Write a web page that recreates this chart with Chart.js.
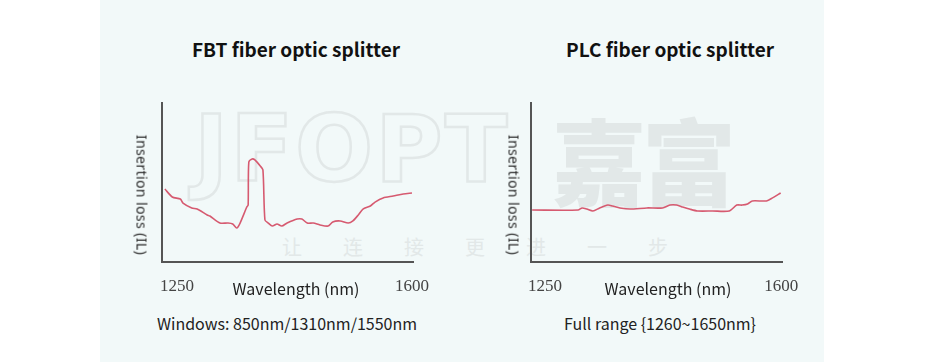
<!DOCTYPE html>
<html>
<head>
<meta charset="utf-8">
<script src="https://cdn.jsdelivr.net/npm/chart.js@4.4.1/dist/chart.umd.min.js"></script>
<style>
  body { margin: 0; width: 925px; height: 362px; background: #fff; position: relative; overflow: hidden; font-family: "Noto Sans CJK SC", "Noto Sans", sans-serif; }
  #panel { position: absolute; left: 100px; top: 0; width: 724px; height: 362px; background: #f2f9f9; }
  .abs { position: absolute; white-space: nowrap; }
  .title { font-size: 19px; font-weight: 700; color: #111; top: 35px; }
  .ytitle { font-size: 14px; color: #2a2a2a; transform: translate(-50%, -50%) rotate(90deg); letter-spacing: 0.4px; font-family: "Noto Sans", sans-serif; }
  .xtitle { font-size: 16px; color: #222; top: 276px; transform: translateX(-50%); }
  .caption { font-size: 16px; color: #222; top: 311px; transform: translateX(-50%); }
  .wm { color: #e2e8e8; }
  canvas { position: absolute; }
</style>
</head>
<body>
<div id="panel"></div>

<!-- faint watermarks -->
<div class="abs" style="left:194px; top:96px; font-size:92px; font-family:'DejaVu Sans'; font-weight:700; color:transparent; -webkit-text-stroke:2.5px #e2e8e8; letter-spacing:2px;">JFOPT</div>
<div class="abs wm" style="left:552px; top:90px; font-size:94px; font-weight:900; letter-spacing:-4px;">嘉富</div>
<div class="abs wm" style="left:282px; top:232px; font-size:20px; letter-spacing:41px;">让连接更进一步</div>

<div class="abs title" style="left:192px;">FBT fiber optic splitter</div>
<div class="abs title" style="left:566px;">PLC fiber optic splitter</div>

<canvas id="fbt" width="309" height="215" style="left:140px; top:95px;"></canvas>
<canvas id="plc" width="309" height="215" style="left:509px; top:95px;"></canvas>

<div class="abs ytitle" style="left:142px; top:195px;">Insertion loss (IL)</div>
<div class="abs ytitle" style="left:514px; top:195px;">Insertion loss (IL)</div>

<div class="abs xtitle" style="left:296px;">Wavelength (nm)</div>
<div class="abs xtitle" style="left:668px;">Wavelength (nm)</div>

<div class="abs caption" style="left:287px;">Windows: 850nm/1310nm/1550nm</div>
<div class="abs caption" style="left:660px;">Full range {1260~1650nm}</div>

<script>
// x tick labels (nm)
const xTicks = [1250, 1600]

// FBT splitter: wavelength (nm) / insertion loss (arbitrary units)
const fbtWave = [1232, 1243, 1255, 1259, 1272, 1280, 1295, 1299, 1314, 1326, 1333, 1339, 1344, 1354, 1356,
  1357, 1362, 1366, 1374, 1378, 1381, 1386, 1392, 1399, 1406, 1414, 1429, 1436, 1444, 1453, 1463, 1475,
  1482, 1493, 1505, 1512, 1520, 1527, 1538, 1545, 1557, 1572, 1587, 1600]
const fbtLoss = [4.59, 4.09, 3.96, 3.71, 3.40, 3.33, 2.96, 2.89, 2.45, 2.45, 2.39, 2.14, 2.45, 3.46, 3.58,
  6.29, 6.48, 6.42, 6.04, 5.79, 2.64, 2.45, 2.26, 2.39, 2.26, 2.45, 2.70, 2.70, 2.45, 2.45, 2.33, 2.26,
  2.52, 2.58, 2.45, 2.58, 2.96, 3.33, 3.52, 3.77, 4.03, 4.15, 4.28, 4.34]

// PLC splitter
const plcWave = [1231, 1299, 1305, 1312, 1321, 1331, 1343, 1350, 1361, 1376, 1401, 1424, 1435, 1445, 1454,
  1464, 1476, 1498, 1523, 1534, 1542, 1550, 1557, 1578, 1587, 1599]
const plcLoss = [3.27, 3.27, 3.40, 3.33, 3.21, 3.40, 3.58, 3.52, 3.40, 3.33, 3.40, 3.40, 3.58, 3.58, 3.46,
  3.33, 3.21, 3.21, 3.21, 3.58, 3.58, 3.65, 3.84, 3.84, 4.03, 4.34]

const lineColor = '#d65a70'
const axisColor = '#555'

function makeChart(id, wave, loss, xMin, xMax, pad) {
    let pts = wave.map((w, i) => ({ x: w, y: loss[i] }))
    return new Chart(document.getElementById(id), {
        type: 'line',
        data: {
            datasets: [{
                data: pts,
                borderColor: lineColor,
                borderWidth: 1.6,
                pointRadius: 0,
                tension: 0.25,
                fill: false
            }]
        },
        options: {
            responsive: false,
            animation: false,
            layout: { padding: pad },
            plugins: { legend: { display: false }, tooltip: { enabled: false } },
            scales: {
                x: {
                    type: 'linear',
                    min: xMin,
                    max: xMax,
                    grid: { display: false, drawTicks: false },
                    border: { display: true, color: axisColor, width: 2 },
                    afterBuildTicks: (scale) => { scale.ticks = xTicks.map(v => ({ value: v })) },
                    afterFit: (scale) => { scale.height = 30 },
                    ticks: {
                        autoSkip: false,
                        maxRotation: 0,
                        padding: 14,
                        color: '#444',
                        font: { family: 'Liberation Serif', size: 17 },
                        callback: (v) => String(v)
                    }
                },
                y: {
                    min: 0,
                    max: 10,
                    grid: { display: false, drawTicks: false },
                    border: { display: true, color: axisColor, width: 2 },
                    ticks: { display: false },
                    afterFit: (scale) => { scale.width = 0 }
                }
            }
        }
    })
}

makeChart('fbt', fbtWave, fbtLoss, 1227.7, 1601.5, { left: 22, top: 8, right: 36, bottom: 18 })
makeChart('plc', plcWave, plcLoss, 1229.3, 1601, { left: 22, top: 8, right: 36, bottom: 18 })
</script>
</body>
</html>
